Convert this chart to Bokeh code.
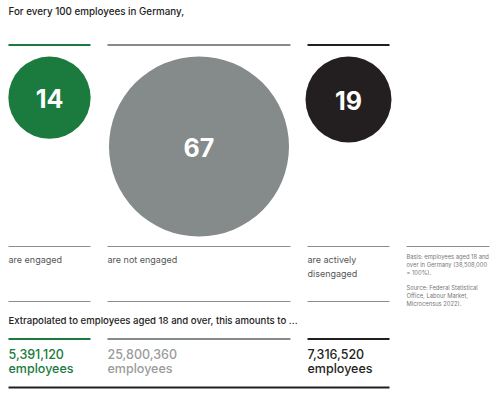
from bokeh.plotting import figure
from bokeh.models import Range1d
from bokeh.core.properties import value
from bokeh.embed import file_html
from bokeh.resources import INLINE
import math

# ---- data ----
title = "For every 100 employees in Germany,"
categories = ["are engaged", "are not engaged", "are actively\ndisengaged"]
shares = [14, 67, 19]
employees = [5391120, 25800360, 7316520]
subtitle = "Extrapolated to employees aged 18 and over, this amounts to ..."
note_lines = ["Basis: employees aged 18 and", "over in Germany (38,508,000", "= 100%).",
              "", "Source: Federal Statistical", "Office, Labour Market,", "Microcensus 2022)."]

# ---- styles / layout ----
FONT = value("Inter")
FONT_MED = value("'Inter Medium', 'Inter SemiBold', Inter")
col_colors = ["#1b7a3e", "#858a8b", "#231f20"]
val_colors = ["#1b7a3e", "#9b9b9b", "#231f20"]
col_left = [8, 107, 307]
col_width = [82, 183, 82]
thin = "#8c8c8c"

W, H = 497, 395
p = figure(width=W, height=H, output_backend="svg", toolbar_location=None,
           x_range=Range1d(0, W), y_range=Range1d(H, 0),
           min_border=0, min_border_left=0, min_border_right=0,
           min_border_top=0, min_border_bottom=0)
p.axis.visible = False
p.xgrid.visible = False
p.ygrid.visible = False
p.outline_line_color = None
p.background_fill_color = "white"
p.border_fill_color = "white"

xl = col_left
xr = [l + w for l, w in zip(col_left, col_width)]
xc = [l + w / 2 for l, w in zip(col_left, col_width)]

# title
p.text(x=[8], y=[11], text=[title], text_font=FONT_MED, text_font_size="9.8px",
       text_color="#222222", text_baseline="middle", text_align="left")

# top coloured rules
p.segment(x0=xl, x1=xr, y0=[44.5] * 3, y1=[44.5] * 3, line_color=col_colors, line_width=2)

# bubbles: area proportional to share, limited by column width
k = 90 / math.sqrt(max(shares))
radii = [min(k * math.sqrt(s), w / 2 + 2) for s, w in zip(shares, col_width)]
top = 56
cy = [top + r for r in radii]
p.circle(x=xc, y=cy, radius=radii, fill_color=col_colors, line_color=None)
p.text(x=xc, y=[c + 1 for c in cy], text=[str(s) for s in shares], text_font=FONT,
       text_font_size="25px", text_font_style="bold", text_color="white",
       text_align="center", text_baseline="middle")

# thin rules around labels
p.segment(x0=xl + [406], x1=xr + [489], y0=[246] * 4, y1=[246] * 4, line_color=thin, line_width=1)
p.segment(x0=xl, x1=xr, y0=[301] * 3, y1=[301] * 3, line_color=thin, line_width=1)

# category labels
lx, ly, lt = [], [], []
for i, c in enumerate(categories):
    for j, line in enumerate(c.split("\n")):
        lx.append(xl[i]); ly.append(258.5 + j * 14); lt.append(line)
p.text(x=lx, y=ly, text=lt, text_font=FONT, text_font_size="9px", text_color="#555555",
       text_baseline="middle", text_align="left")

# subtitle
p.text(x=[8], y=[320], text=[subtitle], text_font=FONT_MED, text_font_size="9.6px",
       text_color="#222222", text_baseline="middle", text_align="left")

# coloured rules above numbers
p.segment(x0=xl, x1=xr, y0=[338.5] * 3, y1=[338.5] * 3, line_color=col_colors, line_width=2.2)

# employee numbers
p.text(x=xl, y=[353] * 3, text=[f"{e:,}" for e in employees], text_font=FONT_MED,
       text_font_size="12.5px", text_color=val_colors, text_baseline="middle", text_align="left")
p.text(x=xl, y=[367.5] * 3, text=["employees"] * 3, text_font=FONT_MED,
       text_font_size="12.5px", text_color=val_colors, text_baseline="middle", text_align="left")

# bottom rule
p.segment(x0=[8], x1=[389], y0=[387], y1=[387], line_color="#231f20", line_width=2)

# side note
ny = [256, 264, 271.5, 279, 287, 295, 302.5]
nx, nyy, nt = [], [], []
for t, y in zip(note_lines, ny):
    if t:
        nx.append(406); nyy.append(y); nt.append(t)
p.text(x=nx, y=nyy, text=nt, text_font=FONT, text_font_size="5.8px", text_color="#777777",
       text_baseline="middle", text_align="left")

open("out.html", "w").write(file_html(p, INLINE))
